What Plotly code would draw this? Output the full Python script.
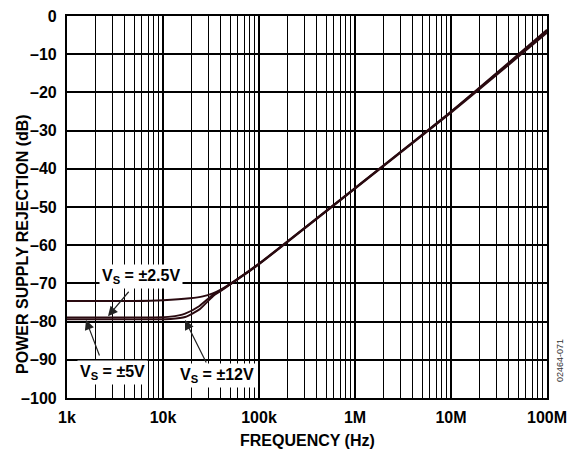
import plotly.graph_objects as go

# ---- data ----
freq_25 = [1e3, 5e3, 1e4, 1.9e4, 2.6e4, 3.3e4, 4e4, 5e4, 7e4, 1e5, 1.78e5, 1e6, 1e7, 1e8]
psr_25 = [-74.6, -74.6, -74.4, -73.9, -73.4, -72.6, -71.6, -70.1, -67.6, -64.8, -59.9, -45.0, -25.0, -3.6]

freq_5 = [1e3, 3e3, 8e3, 1.2e4, 1.7e4, 2.4e4, 3.3e4, 4e4, 5e4, 7e4, 1e5, 1.78e5, 1e6, 1e7, 1e8]
psr_5 = [-78.9, -78.9, -78.9, -78.7, -77.9, -75.9, -73.0, -71.8, -70.2, -67.7, -64.9, -60.0, -45.1, -25.1, -4.0]

freq_12 = [1e3, 3e3, 8e3, 1.2e4, 1.7e4, 2.4e4, 3.3e4, 4e4, 5e4, 7e4, 1e5, 1.78e5, 1e6, 1e7, 1e8]
psr_12 = [-79.4, -79.4, -79.4, -79.3, -78.8, -76.8, -73.4, -72.0, -70.3, -67.8, -65.0, -60.1, -45.2, -25.3, -4.4]

x_tickvals = [1e3, 1e4, 1e5, 1e6, 1e7, 1e8]
x_ticktext = ["1k", "10k", "100k", "1M", "10M", "100M"]
y_tickvals = [0, -10, -20, -30, -40, -50, -60, -70, -80, -90, -100]
y_ticktext = ["0", "–10", "–20", "–30", "–40", "–50", "–60", "–70", "–80", "–90", "–100"]

FONT = "Liberation Sans, Arial, Helvetica, sans-serif"
LINE_COLOR = "#2a0a10"
FS = 16

minor_vals = [m * 10 ** d for d in range(3, 8) for m in range(2, 10)]

fig = go.Figure()
for f, p, name in [(freq_25, psr_25, "±2.5V"), (freq_5, psr_5, "±5V"), (freq_12, psr_12, "±12V")]:
    fig.add_trace(go.Scatter(x=f, y=p, mode="lines", name=name,
                             line=dict(color=LINE_COLOR, width=1.9, shape="spline", smoothing=0.6),
                             showlegend=False, hoverinfo="skip"))

fig.update_layout(
    width=571, height=449,
    margin=dict(l=67, r=24, t=16, b=51, autoexpand=False),
    paper_bgcolor="white", plot_bgcolor="white",
    font=dict(family=FONT, size=FS, color="black"),
    showlegend=False,
)

fig.update_xaxes(
    type="log", range=[3, 8], automargin=False,
    tickvals=x_tickvals, ticktext=["<b>%s</b>" % t for t in x_ticktext],
    ticks="", ticklabelstandoff=4,
    showgrid=True, gridcolor="black", gridwidth=1.7,
    minor=dict(tickvals=minor_vals, showgrid=True, gridcolor="black", gridwidth=1.4, ticks=""),
    showline=True, linecolor="black", linewidth=2.2, mirror=True,
    zeroline=False,
    tickfont=dict(family=FONT, size=FS, color="black"),
)
fig.update_yaxes(
    range=[-100, 0], automargin=False,
    tickvals=y_tickvals, ticktext=["<b>%s</b>" % t for t in y_ticktext],
    ticks="", ticklabelstandoff=5,
    showgrid=True, gridcolor="black", gridwidth=1.7,
    showline=True, linecolor="black", linewidth=2.2, mirror=True,
    zeroline=False,
    tickfont=dict(family=FONT, size=FS, color="black"),
)

ann_font = dict(family=FONT, size=FS, color="black")

# axis titles
fig.add_annotation(text="<b>FREQUENCY (Hz)</b>", xref="paper", yref="paper", x=0.5, y=-0.11,
                   xanchor="center", yanchor="middle", showarrow=False, font=ann_font)
fig.add_annotation(text="<b>POWER SUPPLY REJECTION (dB)</b>", xref="paper", yref="paper",
                   x=-0.094, y=0.403, textangle=-90, xanchor="center", yanchor="middle",
                   showarrow=False, font=ann_font)
fig.add_annotation(text="02464-071", xref="paper", yref="paper", x=1.027, y=0.0995,
                   textangle=-90, xanchor="center", yanchor="middle", showarrow=False,
                   font=dict(family=FONT, size=9, color="#333333"))

# series labels
labels = [
    ("<b>V<sub>S</sub> = ±2.5V</b>", 3.77, -68.1),
    ("<b>V<sub>S</sub> = ±5V</b>", 3.479, -93.2),
    ("<b>V<sub>S</sub> = ±12V</b>", 4.5625, -94.2),
]
for txt, lx, ly in labels:
    fig.add_annotation(text=txt, x=lx, y=ly, xref="x", yref="y", showarrow=False,
                       bgcolor="white", borderpad=2, font=ann_font)

# arrows (tip in data coords, tail offset in pixels)
arrows = [
    (3.427, -78.6, 22, -26),
    (3.198, -79.6, 14, 37),
    (4.229, -79.6, 22, 44),
]
for ax_, ay_, dx, dy in arrows:
    fig.add_annotation(text="", x=ax_, y=ay_, xref="x", yref="y", showarrow=True,
                       ax=dx, ay=dy, arrowhead=2, arrowsize=1.6, arrowwidth=1.2,
                       arrowcolor="#222222", standoff=0)

fig.write_html("out.html", config={"displayModeBar": False},
               post_script="document.body.style.margin='0';document.body.style.padding='0';"
                           "document.documentElement.style.overflow='hidden';")
